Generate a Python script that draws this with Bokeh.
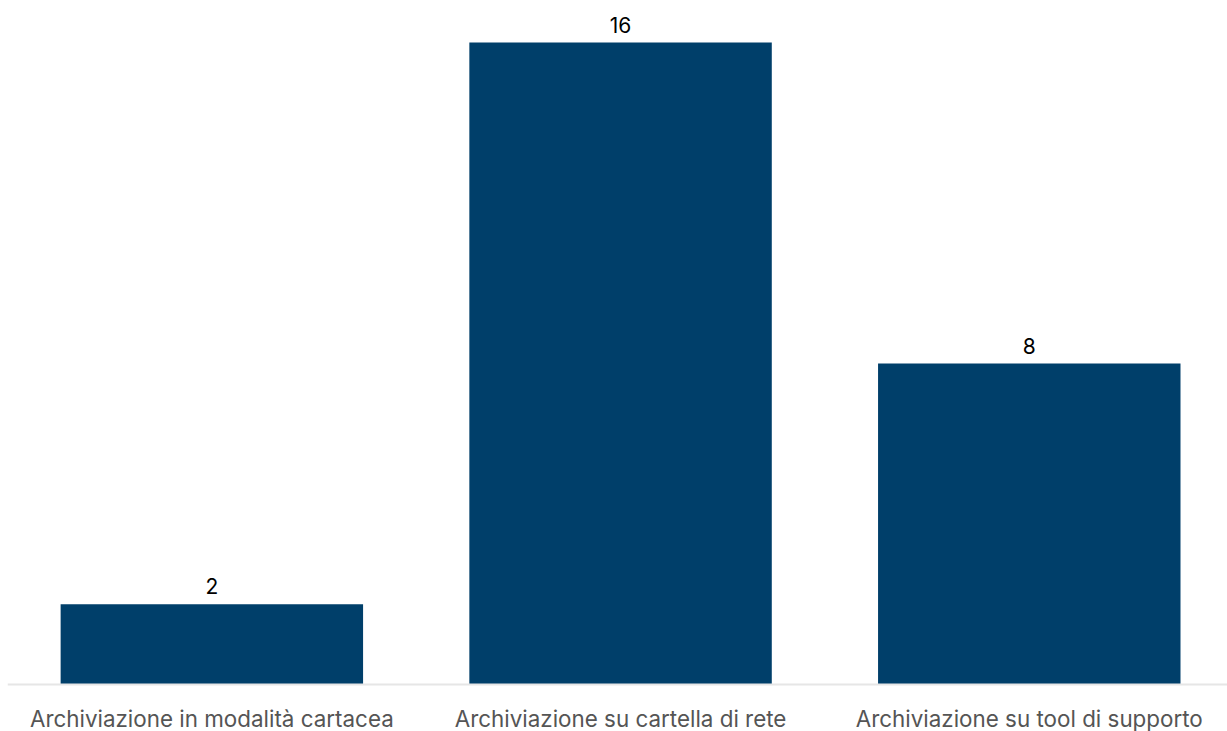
from bokeh.plotting import figure
from bokeh.models import ColumnDataSource, LabelSet, Range1d, Span
from bokeh.core.properties import value
from bokeh.embed import file_html
from bokeh.resources import INLINE

categories = ["Archiviazione in modalità cartacea", "Archiviazione su cartella di rete", "Archiviazione su tool di supporto"]
values = [2, 16, 8]
value_labels = ["2", "16", "8"]

idx = list(range(len(categories)))
src = ColumnDataSource(dict(x=idx, val=values, lab=value_labels, cat=categories, zero=[0] * len(idx)))

p = figure(x_range=Range1d(-0.5, 2.485), y_range=Range1d(-1.1713, 17.047), width=1227, height=731,
           output_backend="svg", toolbar_location=None,
           min_border_left=7, min_border_right=0, min_border_top=0, min_border_bottom=0)

p.vbar(x="x", top="val", bottom=0, width=0.74, source=src, color="#003f6a", line_color=None)

# baseline (axis line)
p.add_layout(Span(location=0, dimension="width", line_color="#e6e6e6", line_width=2))

labels = LabelSet(x="x", y="val", text="lab", source=src, y_offset=10,
                  text_align="center", text_baseline="alphabetic",
                  text_font=value("Inter"), text_font_size="21px", text_color="#000000")
p.add_layout(labels)

cat_labels = LabelSet(x="x", y="zero", text="cat", source=src, y_offset=-42.7,
                      text_align="center", text_baseline="alphabetic",
                      text_font=value("Inter"), text_font_size="22.4px", text_color="#555555")
p.add_layout(cat_labels)

p.xaxis.visible = False
p.yaxis.visible = False
p.xgrid.visible = False
p.ygrid.visible = False
p.outline_line_color = None
p.background_fill_color = "white"
p.border_fill_color = "white"

open("out.html", "w").write(file_html(p, INLINE))
